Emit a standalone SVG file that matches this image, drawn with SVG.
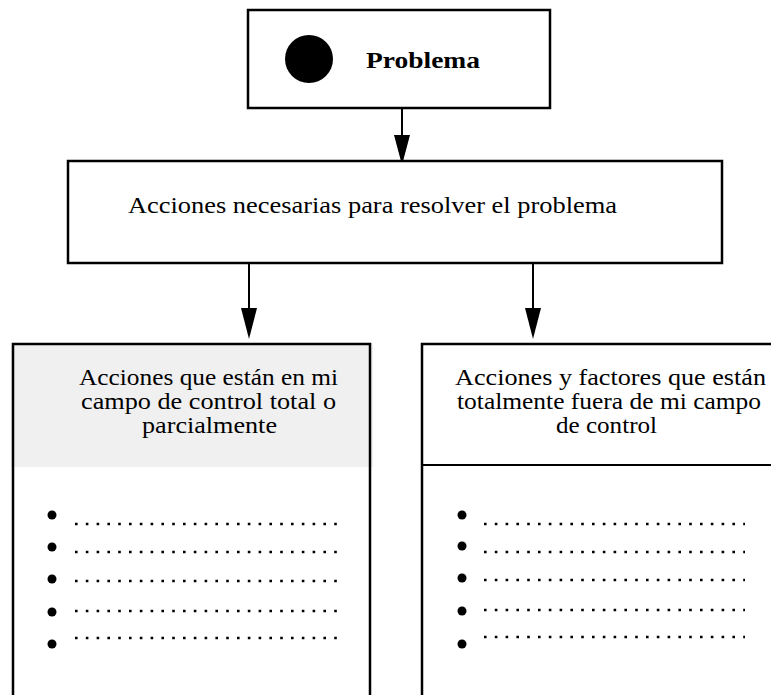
<svg xmlns="http://www.w3.org/2000/svg" width="771" height="695" viewBox="0 0 771 695">
<defs>
<style>
.box{fill:#fff;stroke:#000;stroke-width:2.5}
.t{font-family:"Liberation Serif","DejaVu Serif",serif;font-size:23.5px;fill:#000}
.c{text-anchor:middle}
.dot{stroke:#000;stroke-width:2.6;stroke-dasharray:2.6 8.2;fill:none}
.conn{stroke:#000;stroke-width:2;fill:none}
</style>
</defs>
<rect width="771" height="695" fill="#fff"/>
<g id="connectors">
<line class="conn" x1="402" y1="109" x2="402" y2="160"/>
<path d="M394,135 L410,135 L402,165 Z" fill="#000"/>
<line class="conn" x1="249" y1="263" x2="249" y2="312"/>
<path d="M241,308 L257,308 L249,339 Z" fill="#000"/>
<line class="conn" x1="533" y1="263" x2="533" y2="312"/>
<path d="M525,308 L541,308 L533,339 Z" fill="#000"/>
</g>
<g id="problema">
<rect class="box" x="248" y="10" width="302" height="98" stroke-width="2"/>
<circle cx="309" cy="59" r="24" fill="#000"/>
<text class="t" x="366" y="68" font-weight="bold" font-size="25" textLength="114" lengthAdjust="spacingAndGlyphs">Problema</text>
</g>
<g id="acciones">
<rect class="box" x="68" y="161" width="654" height="102"/>
<text class="t" x="128" y="213" textLength="489" lengthAdjust="spacingAndGlyphs">Acciones necesarias para resolver el problema</text>
</g>
<g id="control">
<rect x="11" y="343" width="362" height="124" fill="#f0f0f0"/>
<path d="M13,695 L13,344 L370,344 L370,695" fill="none" stroke="#000" stroke-width="2.5"/>
<text class="t c" x="208.5" y="385" textLength="259" lengthAdjust="spacingAndGlyphs">Acciones que están en mi</text>
<text class="t c" x="208.5" y="409" textLength="255" lengthAdjust="spacingAndGlyphs">campo de control total o</text>
<text class="t c" x="209.5" y="433" textLength="135" lengthAdjust="spacingAndGlyphs">parcialmente</text>
<g fill="#000">
<circle cx="52" cy="515" r="4.5"/><circle cx="52" cy="547" r="4.5"/><circle cx="52" cy="579" r="4.5"/><circle cx="52" cy="612" r="4.5"/><circle cx="52" cy="644" r="4.5"/>
</g>
<line class="dot" x1="75" y1="524" x2="338" y2="524"/>
<line class="dot" x1="75" y1="552" x2="338" y2="552"/>
<line class="dot" x1="75" y1="581" x2="338" y2="581"/>
<line class="dot" x1="75" y1="611" x2="338" y2="611"/>
<line class="dot" x1="75" y1="638" x2="338" y2="638"/>
</g>
<g id="fuera">
<path d="M422,695 L422,344 L775,344" fill="none" stroke="#000" stroke-width="2.5"/>
<line x1="422" y1="465" x2="775" y2="465" stroke="#000" stroke-width="2"/>
<text class="t c" x="610.5" y="385" textLength="311" lengthAdjust="spacingAndGlyphs">Acciones y factores que están</text>
<text class="t c" x="609" y="409" textLength="304" lengthAdjust="spacingAndGlyphs">totalmente fuera de mi campo</text>
<text class="t c" x="606.5" y="433" textLength="101" lengthAdjust="spacingAndGlyphs">de control</text>
<g fill="#000">
<circle cx="462" cy="515" r="4.5"/><circle cx="462" cy="546" r="4.5"/><circle cx="462" cy="578" r="4.5"/><circle cx="462" cy="611" r="4.5"/><circle cx="462" cy="644" r="4.5"/>
</g>
<line class="dot" x1="484" y1="524" x2="745" y2="524"/>
<line class="dot" x1="484" y1="552" x2="745" y2="552"/>
<line class="dot" x1="484" y1="580" x2="745" y2="580"/>
<line class="dot" x1="484" y1="610" x2="745" y2="610"/>
<line class="dot" x1="484" y1="637" x2="745" y2="637"/>
</g>
</svg>
